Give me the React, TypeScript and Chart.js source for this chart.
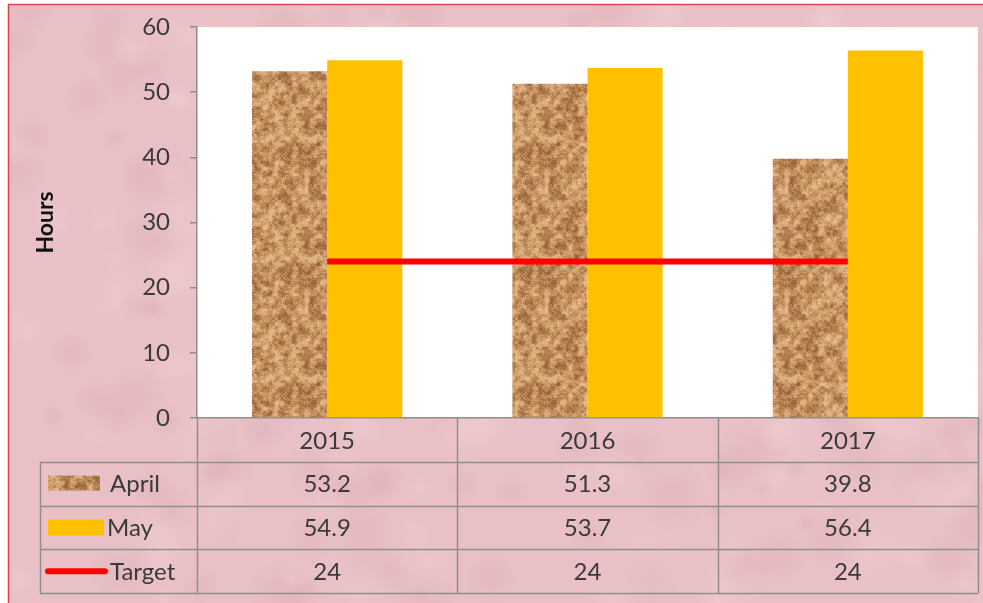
import React, { useEffect, useRef } from "react";
import { Chart, registerables } from "chart.js";

Chart.register(...registerables);

const categories = ["2015", "2016", "2017"];
const aprilValues = [53.2, 51.3, 39.8];
const mayValues = [54.9, 53.7, 56.4];
const targetValues = [24, 24, 24];
const seriesNames = ["April", "May", "Target"];
const yMin = 0;
const yMax = 60;
const yStep = 10;
const yTitle = "Hours";

const FONT = "Lato, 'Open Sans', sans-serif";
const TEXT = "#3a3a3a";
const GRID = "#8e8e8e";
const MAY_COLOR = "#FFC000";
const TARGET_COLOR = "#FF0000";

function hash(x: number, y: number, s: number) {
  let h = (x * 374761393 + y * 668265263 + s * 982451653) | 0;
  h = (h ^ (h >>> 13)) * 1274126177;
  h = h ^ (h >>> 16);
  return ((h >>> 0) % 10000) / 10000;
}

function smoothNoise(x: number, y: number, cell: number, cells: number, seed: number) {
  const gx = x / cell;
  const gy = y / cell;
  const x0 = Math.floor(gx);
  const y0 = Math.floor(gy);
  const fx = gx - x0;
  const fy = gy - y0;
  const sx = fx * fx * (3 - 2 * fx);
  const sy = fy * fy * (3 - 2 * fy);
  const v = (a: number, b: number) => hash(((a % cells) + cells) % cells, ((b % cells) + cells) % cells, seed);
  const a = v(x0, y0) + (v(x0 + 1, y0) - v(x0, y0)) * sx;
  const b = v(x0, y0 + 1) + (v(x0 + 1, y0 + 1) - v(x0, y0 + 1)) * sx;
  return a + (b - a) * sy;
}

function makeCorkPattern(): CanvasPattern | string {
  const N = 120;
  const c = document.createElement("canvas");
  c.width = N;
  c.height = N;
  const ctx = c.getContext("2d");
  if (!ctx) return "#c99460";
  const img = ctx.createImageData(N, N);
  const dark = [150, 98, 55];
  const mid = [198, 146, 96];
  const light = [228, 186, 138];
  for (let y = 0; y < N; y++) {
    for (let x = 0; x < N; x++) {
      const n1 = smoothNoise(x, y, 6, 20, 19);
      const n2 = smoothNoise(x, y, 3, 40, 23);
      const fine = hash(x, y, 7);
      const v = 0.4 * n1 + 0.35 * n2 + 0.25 * fine;
      let col;
      if (v < 0.5) {
        const t = Math.max(0, (v - 0.22) / 0.28);
        col = dark.map((d, i) => d + (mid[i] - d) * t);
      } else {
        const t = Math.min(1, (v - 0.5) / 0.25);
        col = mid.map((m, i) => m + (light[i] - m) * t);
      }
      const k = (y * N + x) * 4;
      img.data[k] = col[0];
      img.data[k + 1] = col[1];
      img.data[k + 2] = col[2];
      img.data[k + 3] = 255;
    }
  }
  ctx.putImageData(img, 0, 0);
  return ctx.createPattern(c, "repeat") || "#c99460";
}

export default function App() {
  const ref = useRef<HTMLCanvasElement | null>(null);

  useEffect(() => {
    const canvas = ref.current;
    if (!canvas) return;
    const cork = makeCorkPattern();

    const backgroundPlugin = {
      id: "bgPlugin",
      beforeDraw(chart: any) {
        const { ctx, width, height, chartArea } = chart;
        ctx.save();
        ctx.fillStyle = "#ffffff";
        ctx.fillRect(0, 0, width, height);
        ctx.fillStyle = "#e8c0c5";
        ctx.fillRect(9, 5, width - 9, height - 5);
        ctx.save();
        ctx.beginPath();
        ctx.rect(9, 5, width - 9, height - 5);
        ctx.clip();
        for (let i = 0; i < 320; i++) {
          const px = 9 + hash(i, 1, 3) * width;
          const py = 5 + hash(i, 2, 5) * height;
          const rad = 10 + hash(i, 3, 11) * 28;
          const light = hash(i, 4, 13) > 0.5;
          const g = ctx.createRadialGradient(px, py, 0, px, py, rad);
          g.addColorStop(0, light ? "rgba(244,214,218,0.28)" : "rgba(212,160,168,0.22)");
          g.addColorStop(1, light ? "rgba(244,214,218,0)" : "rgba(212,160,168,0)");
          ctx.fillStyle = g;
          ctx.fillRect(px - rad, py - rad, rad * 2, rad * 2);
        }
        ctx.restore();
        ctx.strokeStyle = "#e0434c";
        ctx.lineWidth = 1.5;
        ctx.beginPath();
        ctx.moveTo(8.5, height);
        ctx.lineTo(8.5, 4.5);
        ctx.lineTo(width, 4.5);
        ctx.stroke();
        ctx.fillStyle = "#ffffff";
        ctx.fillRect(chartArea.left, chartArea.top, chartArea.right - chartArea.left, chartArea.bottom - chartArea.top);
        ctx.restore();
      },
    };

    const tablePlugin = {
      id: "tablePlugin",
      afterDraw(chart: any) {
        const { ctx, chartArea } = chart;
        const xs = chart.scales.x;
        const tLeft = 40;
        const tTop = chartArea.bottom;
        const tBottom = 593;
        const tRight = chartArea.right;
        const rowH = (tBottom - tTop) / 4;
        const colW = (chartArea.right - chartArea.left) / categories.length;
        ctx.save();
        ctx.strokeStyle = GRID;
        ctx.lineWidth = 1.5;
        ctx.beginPath();
        for (let r = 1; r <= 4; r++) {
          const y = Math.round(tTop + rowH * r) + 0.5;
          ctx.moveTo(tLeft, y);
          ctx.lineTo(tRight, y);
        }
        ctx.moveTo(tLeft + 0.5, tTop + rowH);
        ctx.lineTo(tLeft + 0.5, tBottom);
        for (let c = 0; c <= categories.length; c++) {
          const x = Math.round(chartArea.left + colW * c) + 0.5;
          ctx.moveTo(x, tTop);
          ctx.lineTo(x, tBottom);
        }
        ctx.stroke();

        ctx.fillStyle = TEXT;
        ctx.font = `24px ${FONT}`;
        ctx.textAlign = "center";
        ctx.textBaseline = "middle";
        const rows = [categories, aprilValues.map(String), mayValues.map(String), targetValues.map(String)];
        rows.forEach((row, r) => {
          const cy = tTop + rowH * (r + 0.5) + 1;
          row.forEach((txt, i) => {
            ctx.fillText(txt, xs.getPixelForValue(i), cy);
          });
        });

        const c1 = tTop + rowH * 1.5;
        const c2 = tTop + rowH * 2.5;
        const c3 = tTop + rowH * 3.5;
        ctx.fillStyle = cork as any;
        ctx.fillRect(48, c1 - 8, 52, 15);
        ctx.fillStyle = MAY_COLOR;
        ctx.fillRect(48, c2 - 8, 56, 16);
        ctx.strokeStyle = TARGET_COLOR;
        ctx.lineWidth = 6;
        ctx.lineCap = "round";
        ctx.beginPath();
        ctx.moveTo(48, c3);
        ctx.lineTo(105, c3);
        ctx.stroke();
        ctx.fillStyle = TEXT;
        ctx.textAlign = "left";
        ctx.fillText(seriesNames[0], 110, c1 + 1);
        ctx.fillText(seriesNames[1], 107, c2 + 1);
        ctx.fillText(seriesNames[2], 110, c3 + 1);
        ctx.restore();
      },
    };

    const chart = new Chart(canvas, {
      type: "bar",
      data: {
        labels: categories,
        datasets: [
          {
            type: "line",
            label: seriesNames[2],
            data: targetValues,
            borderColor: TARGET_COLOR,
            backgroundColor: TARGET_COLOR,
            borderWidth: 6,
            pointRadius: 0,
            fill: false,
            order: 0,
          } as any,
          {
            label: seriesNames[0],
            data: aprilValues,
            backgroundColor: cork as any,
            categoryPercentage: 0.577,
            barPercentage: 1,
            order: 1,
          },
          {
            label: seriesNames[1],
            data: mayValues,
            backgroundColor: MAY_COLOR,
            categoryPercentage: 0.577,
            barPercentage: 1,
            order: 1,
          },
        ],
      },
      options: {
        animation: false,
        responsive: false,
        maintainAspectRatio: false,
        layout: { padding: { top: 27, right: 5, left: 0, bottom: 0 } },
        plugins: {
          legend: { display: false },
          tooltip: { enabled: false },
        },
        scales: {
          x: {
            grid: { display: false },
            border: { display: true, color: GRID, width: 1.5 },
            ticks: { display: false },
            afterFit: (s: any) => {
              s.height = 185;
              s.paddingLeft = 0;
              s.paddingRight = 0;
            },
          },
          y: {
            min: yMin,
            max: yMax,
            ticks: {
              stepSize: yStep,
              color: TEXT,
              font: { family: FONT, size: 24 },
              padding: 20,
            },
            grid: { drawOnChartArea: false, drawTicks: true, tickLength: 7, color: GRID, lineWidth: 1.5 },
            border: { display: true, color: GRID, width: 1.5 },
            title: {
              display: true,
              text: yTitle,
              color: "#111",
              font: { family: FONT, size: 23, weight: "bold" },
              padding: { top: 32, bottom: 0 },
            },
            afterFit: (s: any) => {
              s.width = 197;
              s.paddingTop = 0;
              s.paddingBottom = 0;
            },
          },
        },
      },
      plugins: [backgroundPlugin, tablePlugin],
    });

    return () => chart.destroy();
  }, []);

  return (
    <div style={{ position: "fixed", left: 0, top: 0, width: 983, height: 603 }}>
      <canvas ref={ref} width={983} height={603} style={{ display: "block", width: 983, height: 603 }} />
    </div>
  );
}
